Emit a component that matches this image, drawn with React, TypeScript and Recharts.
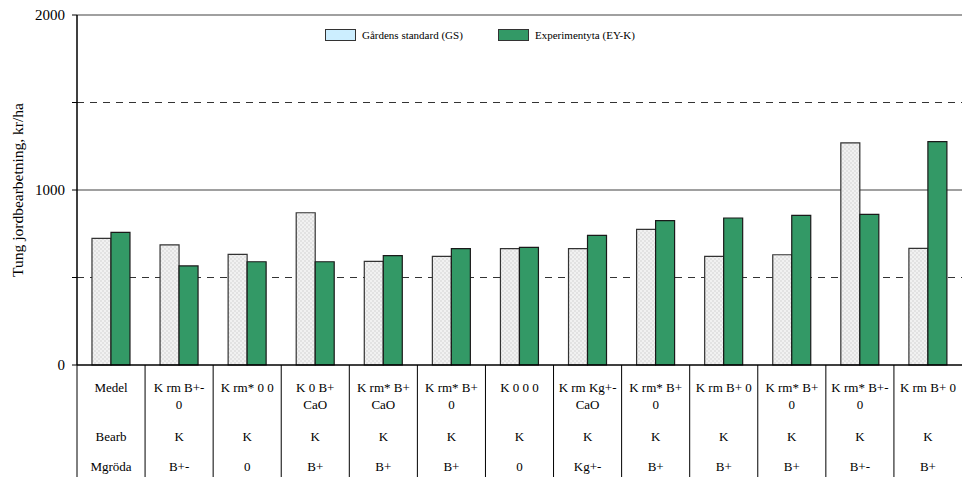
import React from 'react'
import { BarChart, Bar, XAxis, YAxis, CartesianGrid, Legend } from 'recharts'

const categories = [
  'Medel',
  'K rm B+-\n0',
  'K rm* 0 0',
  'K 0 B+\nCaO',
  'K rm* B+\nCaO',
  'K rm* B+\n0',
  'K 0 0 0',
  'K rm Kg+-\nCaO',
  'K rm* B+\n0',
  'K rm B+ 0',
  'K rm* B+\n0',
  'K rm* B+-\n0',
  'K rm B+ 0',
]
const bearb = ['Bearb', 'K', 'K', 'K', 'K', 'K', 'K', 'K', 'K', 'K', 'K', 'K', 'K']
const mgroda = ['Mgröda', 'B+-', '0', 'B+', 'B+', 'B+', '0', 'Kg+-', 'B+', 'B+', 'B+', 'B+-', 'B+']
const gsValues = [724, 686, 632, 870, 592, 621, 665, 665, 775, 621, 630, 1269, 667]
const eyValues = [758, 566, 590, 590, 625, 665, 672, 741, 825, 840, 855, 861, 1276]
const yTicks = [0, 500, 1000, 1500, 2000]

const data = categories.map((name, i) => ({ name, gs: gsValues[i], ey: eyValues[i] }))

const W = 962
const H = 477
const AXIS_W = 77
const BAND = (W - AXIS_W) / categories.length
const FONT = '"Liberation Serif", "Times New Roman", serif'

function XTick(props: any) {
  const { x, y, payload, index } = props
  const lines = String(payload.value).split('\n')
  const left = x - BAND / 2
  return (
    <g fontFamily={FONT} fontSize={13} fill="#000">
      <line x1={left} x2={left} y1={y} y2={H} stroke="#000" strokeWidth={1} />
      {lines.map((l, i) => (
        <text key={i} x={x} y={y + 27 + i * 17} textAnchor="middle">
          {l}
        </text>
      ))}
      <text x={x} y={y + 76} textAnchor="middle">{bearb[index]}</text>
      <text x={x} y={y + 106} textAnchor="middle">{mgroda[index]}</text>
    </g>
  )
}

const legendOrder = ['gs', 'ey']
const legendColors: Record<string, string> = { gs: '#cceeff', ey: '#339966' }

function LegendBox({ payload }: any) {
  const items = [...(payload || [])].sort(
    (a: any, b: any) => legendOrder.indexOf(a.dataKey) - legendOrder.indexOf(b.dataKey)
  )
  return (
    <div style={{ display: 'flex', alignItems: 'center', fontFamily: FONT, fontSize: 11 }}>
      {items.map((p: any, i: number) => (
        <div key={p.dataKey} style={{ display: 'flex', alignItems: 'center', width: i === 0 ? 173 : 'auto' }}>
          <span
            style={{
              display: 'inline-block',
              width: 29,
              height: 10,
              background: legendColors[p.dataKey],
              border: '1px solid #333',
              marginRight: 6,
            }}
          />
          <span>{p.value}</span>
        </div>
      ))}
    </div>
  )
}

function YLabel({ viewBox }: any) {
  const cy = viewBox ? viewBox.y + viewBox.height / 2 : 190
  return (
    <text
      x={17}
      y={cy}
      transform={`rotate(-90 17 ${cy})`}
      textAnchor="middle"
      dominantBaseline="central"
      fontFamily={FONT}
      fontSize={15.5}
      fill="#000"
    >
      Tung jordbearbetning, kr/ha
    </text>
  )
}

export default function App() {
  return (
    <div style={{ width: W, height: H, fontFamily: FONT, background: '#fff' }}>
      <style>{'body{margin:0}'}</style>
      <BarChart
        width={W}
        height={H}
        data={data}
        margin={{ top: 15, right: 0, left: 0, bottom: 0 }}
        barCategoryGap="22%"
        barGap={0}
      >
        <defs>
          <pattern id="gsPattern" width="4" height="4" patternUnits="userSpaceOnUse">
            <rect width="4" height="4" fill="#f1f1f1" />
            <rect width="2" height="2" fill="#e2e2e2" />
            <rect x="2" y="2" width="2" height="2" fill="#e2e2e2" />
          </pattern>
        </defs>
        <CartesianGrid vertical={false} horizontalValues={[1000, 2000]} stroke="#808080" strokeWidth={1.5} />
        <CartesianGrid vertical={false} horizontalValues={[500, 1500]} stroke="#333" strokeDasharray="7 6" />
        <XAxis
          dataKey="name"
          height={H - 365}
          interval={0}
          tickLine={false}
          tickSize={0}
          tickMargin={0}
          axisLine={{ stroke: '#000', strokeWidth: 1.5 }}
          tick={<XTick />}
        />
        <YAxis
          width={AXIS_W}
          domain={[0, 2000]}
          ticks={yTicks}
          interval={0}
          tickFormatter={(v: number) => (v % 1000 === 0 ? String(v) : '')}
          tick={{ fill: '#000', fontSize: 15, fontFamily: FONT }}
          tickLine={{ stroke: '#000' }}
          tickSize={5}
          tickMargin={7}
          axisLine={{ stroke: '#000', strokeWidth: 1.5 }}
          label={<YLabel />}
        />
        <Legend
          layout="horizontal"
          verticalAlign="middle"
          align="center"
          wrapperStyle={{ top: 29, left: 325, width: 400 }}
          content={<LegendBox />}
        />
        <Bar dataKey="gs" name="Gårdens standard (GS)" fill="url(#gsPattern)" stroke="#333" strokeWidth={1.2} isAnimationActive={false} />
        <Bar dataKey="ey" name="Experimentyta (EY-K)" fill="#339966" stroke="#1a1a1a" strokeWidth={1.2} isAnimationActive={false} />
      </BarChart>
    </div>
  )
}
